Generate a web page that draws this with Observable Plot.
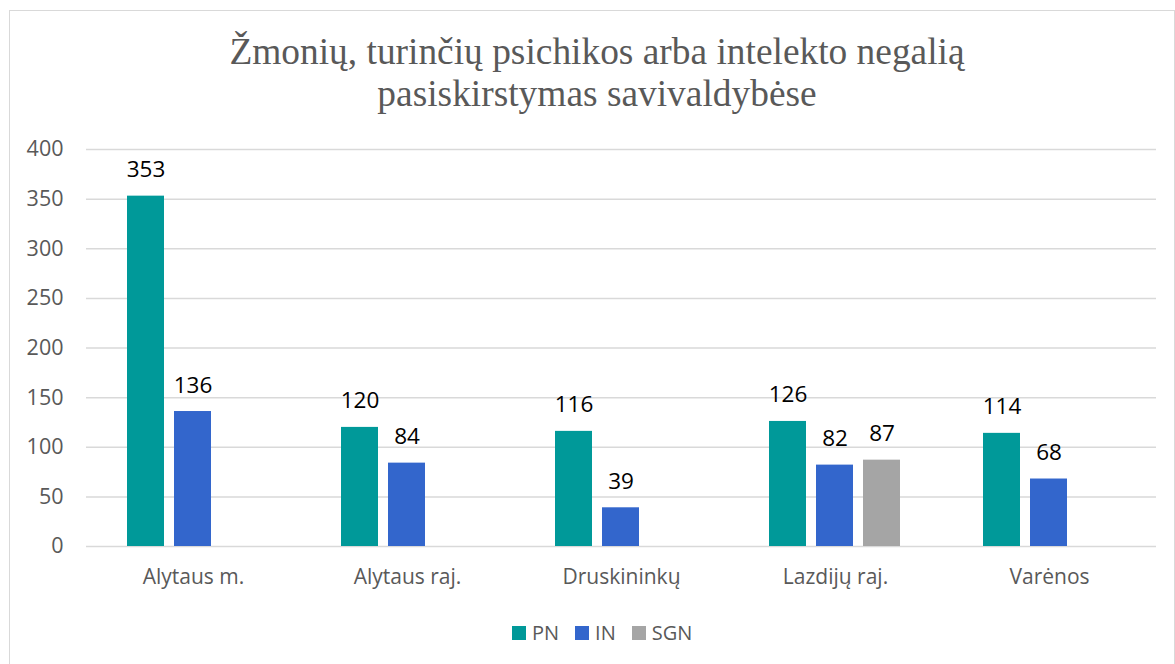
<!DOCTYPE html>
<html>
<head>
<meta charset="utf-8">
<script src="https://cdn.jsdelivr.net/npm/d3@7"></script>
<script src="https://cdn.jsdelivr.net/npm/@observablehq/plot@0.6"></script>
<style>
  html, body { margin: 0; padding: 0; background: #fff; overflow: hidden; }
  #frame { position: absolute; left: 9px; top: 10px; width: 1164px; height: 670px; border: 1px solid #d9d9d9; background: #fff; }
  #title { position: absolute; left: 5px; top: 20px; width: 1164px; text-align: center; font-family: "Liberation Serif", "Times New Roman", serif; font-size: 37.4px; line-height: 42px; color: #595959; }
  #chart { position: absolute; left: 0; top: 119px; }
  #legend { position: absolute; left: 502px; top: 608px; display: flex; align-items: center; font-family: "Open Sans", sans-serif; font-size: 20px; color: #595959; }
  .item { display: flex; align-items: center; margin-right: 16px; }
  .sw { width: 14px; height: 14px; margin-right: 6px; }
</style>
</head>
<body>
<div id="frame">
  <div id="title">Žmonių, turinčių psichikos arba intelekto negalią<br>pasiskirstymas savivaldybėse</div>
  <div id="chart"></div>
  <div id="legend"></div>
</div>
<script>
const categories = ["Alytaus m.", "Alytaus raj.", "Druskininkų", "Lazdijų raj.", "Varėnos"];
const seriesNames = ["PN", "IN", "SGN"];
const pnValues = [353, 120, 116, 126, 114];
const inValues = [136, 84, 39, 82, 68];
const sgnValues = [null, null, null, 87, null];
const yTicks = [0, 50, 100, 150, 200, 250, 300, 350, 400];
const seriesColors = ["#009999", "#3366CC", "#A5A5A5"];

const seriesValues = [pnValues, inValues, sgnValues];
const rows = [];
categories.forEach((c, i) => {
  seriesNames.forEach((s, j) => {
    const v = seriesValues[j][i];
    if (v != null) rows.push({category: c, series: s, value: v});
  });
});

const chart = Plot.plot({
  width: 1164,
  height: 477,
  marginLeft: 75,
  marginRight: 18,
  marginTop: 19,
  marginBottom: 61,
  style: {fontFamily: "Open Sans, sans-serif", background: "transparent", overflow: "visible"},
  fx: {domain: categories, padding: 0, label: null},
  x: {domain: seriesNames, paddingInner: 0.208, paddingOuter: 0.835, axis: null},
  y: {domain: [0, 400], label: null},
  color: {domain: seriesNames, range: seriesColors},
  marks: [
    Plot.ruleY(yTicks, {stroke: "#d9d9d9", strokeWidth: 1.5}),
    Plot.axisY({ticks: yTicks, tickSize: 0, tickPadding: 23, fontSize: 21.5, fill: "#595959", label: null}),
    Plot.axisFx({anchor: "bottom", tickSize: 0, tickPadding: 23, fontSize: 21, fill: "#595959", label: null}),
    Plot.barY(rows, {fx: "category", x: "series", y: "value", fill: "series"}),
    Plot.text(rows, {fx: "category", x: "series", y: "value", text: d => String(d.value), lineAnchor: "bottom", dy: -19, fontSize: 22.5, fill: "#000"})
  ]
});
document.getElementById("chart").appendChild(chart);

const legend = document.getElementById("legend");
seriesNames.forEach((s, j) => {
  const item = document.createElement("div");
  item.className = "item";
  const sw = document.createElement("div");
  sw.className = "sw";
  sw.style.background = seriesColors[j];
  const lab = document.createElement("span");
  lab.textContent = s;
  item.appendChild(sw);
  item.appendChild(lab);
  legend.appendChild(item);
});
</script>
</body>
</html>
